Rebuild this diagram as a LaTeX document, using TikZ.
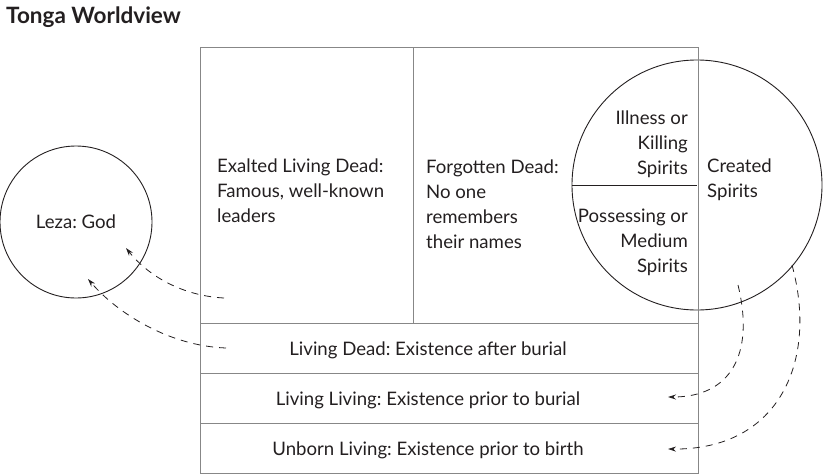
\documentclass[tikz,border=0pt]{standalone}
\usepackage{fontspec}
\setmainfont{Lato}
\frenchspacing
\usetikzlibrary{arrows.meta, positioning}
\definecolor{boxgray}{RGB}{135,135,135}
\definecolor{inkdark}{RGB}{35,31,32}

\begin{document}
\begin{tikzpicture}[
    x=1pt, y=-1pt,
    cell/.style={rectangle, draw=boxgray, line width=1.4pt, inner sep=0pt, anchor=north west},
    ring/.style={circle, draw=inkdark, line width=0.9pt, inner sep=0pt},
    txt/.style={font=\fontsize{18.6}{25}\selectfont, text=inkdark, inner sep=0pt},
    flow/.style={-{Stealth[length=8pt, width=5pt]}, dash pattern=on 7pt off 6pt, line width=0.8pt, inkdark},
]
    \useasboundingbox (0,0) rectangle (824,474);

    % Title
    \node[font=\fontsize{22.5}{26}\selectfont\bfseries, text=inkdark, inner sep=0pt, anchor=base west] (title) at (6,23) {Tonga Worldview};

    % Spirits circle (behind the box)
    \node[ring, minimum size=250pt] (spirits) at (697,185) {};
    \draw[inkdark, line width=0.9pt] (spirits.west) -- (spirits.center);

    % Upper cells
    \node[cell, minimum width=213pt, minimum height=276pt] (exalted) at (200,47) {};
    \node[cell, minimum width=285pt, minimum height=276pt] (forgotten) at (413,47) {};

    % Rows
    \node[cell, minimum width=498pt, minimum height=50pt] (dead) at (200,323) {};
    \node[cell, minimum width=498pt, minimum height=50pt] (living) at (200,373) {};
    \node[cell, minimum width=498pt, minimum height=50pt] (unborn) at (200,423) {};

    % Texts
    \node[txt, align=left, anchor=west] (exaltedtxt) at (217,191) {Exalted Living Dead:\\Famous, well-known\\leaders};
    \node[txt, align=left, anchor=west] (forgottentxt) at (426,204) {Forgotten Dead:\\No one\\remembers\\their names};
    \node[txt, align=right, anchor=east] (illnesstxt) at (688,144) {Illness or\\Killing\\Spirits};
    \node[txt, align=right, anchor=east] (possesstxt) at (688,242) {Possessing or\\Medium~\\Spirits};
    \node[txt, align=left, anchor=west] (createdtxt) at (707,180) {Created\\Spirits};
    \node[txt] (deadtxt) at (428,350) {Living Dead: Existence after burial};
    \node[txt] (livingtxt) at (428,400) {Living Living: Existence prior to burial};
    \node[txt] (unborntxt) at (428,450) {Unborn Living: Existence prior to birth};

    % Leza
    \node[ring, minimum size=152pt, txt] (leza) at (76,222) {Leza: God};

    % Connector ends
    \coordinate (exalted-out) at (224,298);
    \coordinate (dead-out) at (226,348);
    \coordinate (leza-in1) at (126,248);
    \coordinate (leza-in2) at (88,279);
    \coordinate (spirits-out1) at (738,285);
    \coordinate (spirits-out2) at (792,265);
    \coordinate (living-in) at (668,397);
    \coordinate (unborn-in) at (668,449);

    % Flows
    \draw[flow] (exalted-out) .. controls (185,296) and (150,278) .. (leza-in1);
    \draw[flow] (dead-out) .. controls (170,346) and (118,314) .. (leza-in2);
    \draw[flow] (spirits-out1) .. controls (755,355) and (730,397) .. (living-in);
    \draw[flow] (spirits-out2) .. controls (818,360) and (780,450) .. (unborn-in);
\end{tikzpicture}
\end{document}
